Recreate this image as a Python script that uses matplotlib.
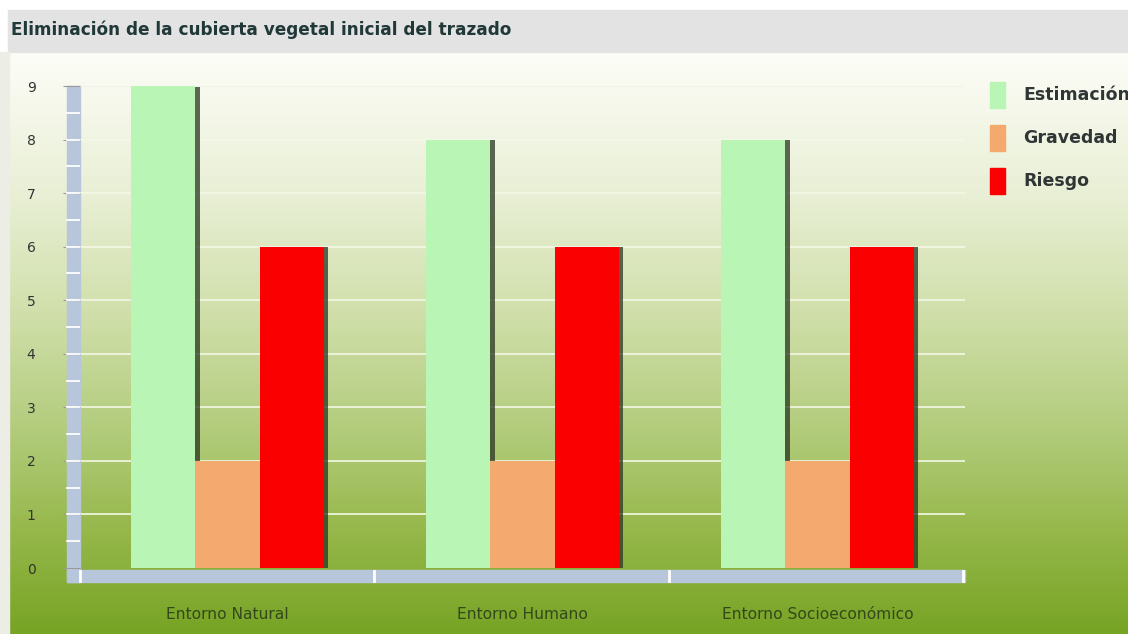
import numpy as np
import matplotlib
matplotlib.use("Agg")
import matplotlib.pyplot as plt
from matplotlib.colors import LinearSegmentedColormap
from matplotlib.patches import Rectangle
import matplotlib.patheffects as pe

plt.rcParams.update({"font.family": ["DejaVu Sans"]})

categories = ["Entorno Natural", "Entorno Humano", "Entorno Socioeconómico"]
series = ["Estimación", "Gravedad", "Riesgo"]
estimacion = [9, 8, 8]
gravedad = [2, 2, 2]
riesgo = [6, 6, 6]
colors = ["#b9f5b5", "#f4a96e", "#fb0000"]
title = "Eliminación de la cubierta vegetal inicial del trazado"

W, H = 1128, 634
fig = plt.figure(figsize=(W / 100, H / 100), dpi=100)

# background layer in pixel coordinates
bg = fig.add_axes([0, 0, 1, 1], zorder=0)
bg.set_xlim(0, W); bg.set_ylim(H, 0); bg.axis("off")
bg.add_patch(Rectangle((0, 0), W, H, color="white"))
grad = LinearSegmentedColormap.from_list(
    "g", [(0, "#fdfdf8"), (0.25, "#e8efd4"), (0.45, "#d0dfaa"),
          (0.65, "#b2cc7c"), (0.82, "#97b84c"), (1, "#76a424")])
bg.imshow(np.linspace(0, 1, 256)[:, None], cmap=grad, aspect="auto",
          extent=(8, W, H, 52), zorder=1)
bg.add_patch(Rectangle((8, 10), W - 8, 42, color="#e3e3e3", zorder=2))
bg.add_patch(Rectangle((0, 52), 9, H - 52, color="#eceee6", zorder=2))
bg.text(11, 30, title, fontsize=12.2, fontweight="bold", color="#203838",
        va="center", ha="left", zorder=3)

# axis bars
bg.add_patch(Rectangle((67, 86), 13, 496, color="#b8c6dc", zorder=2))
bg.add_patch(Rectangle((67, 570), 898, 12, color="#b8c6dc", zorder=2))
for x in [80, 374, 669, 963]:
    bg.plot([x, x], [571, 581], color="white", lw=2, zorder=3)

# legend
for i, (name, c) in enumerate(zip(series, colors)):
    y = 95 + i * 43
    bg.add_patch(Rectangle((990, y - 13), 15, 26, color=c, zorder=3))
    bg.text(1023, y, name, fontsize=12.5, fontweight="bold", color="#303636",
            va="center", ha="left", zorder=3)

# main plot area
ax = fig.add_axes([80 / W, (H - 568) / H, 885 / W, 482 / H], zorder=1)
ax.patch.set_alpha(0)
ax.set_xlim(0, 3)
ax.set_ylim(0, 9)
for s in ax.spines.values():
    s.set_visible(False)

for v in range(1, 9):
    ax.axhline(v, color="#f4f8e6", lw=1.2, zorder=1)
ax.axhline(9, color="#f0f3e6", lw=1, zorder=1)
# white minor marks on the vertical axis bar
for v in np.arange(0.5, 9, 0.5):
    ax.plot([-0.044, -0.005], [v, v], color="white", lw=1.3,
            clip_on=False, zorder=2)

x = np.arange(len(categories)) + 0.5
w = 0.217
shadow = [pe.SimplePatchShadow(offset=(3, -0.5), shadow_rgbFace="#2a3420",
                               alpha=0.75), pe.Normal()]
for i, (vals, c) in enumerate(zip([estimacion, gravedad, riesgo], colors)):
    bars = ax.bar(x + (i - 1) * w, vals, width=w, color=c, zorder=3)
    for b in bars:
        b.set_path_effects(shadow)

ax.set_yticks(range(0, 10))
ax.tick_params(axis="y", length=12, pad=20, color="#9a9a9a", width=0.8,
               labelsize=10, labelcolor="#333333")
ax.set_xticks(x)
ax.set_xticklabels(categories)
ax.tick_params(axis="x", length=0, pad=28, labelsize=11.2, labelcolor="#34481c")

fig.savefig("out.png", dpi=100)
